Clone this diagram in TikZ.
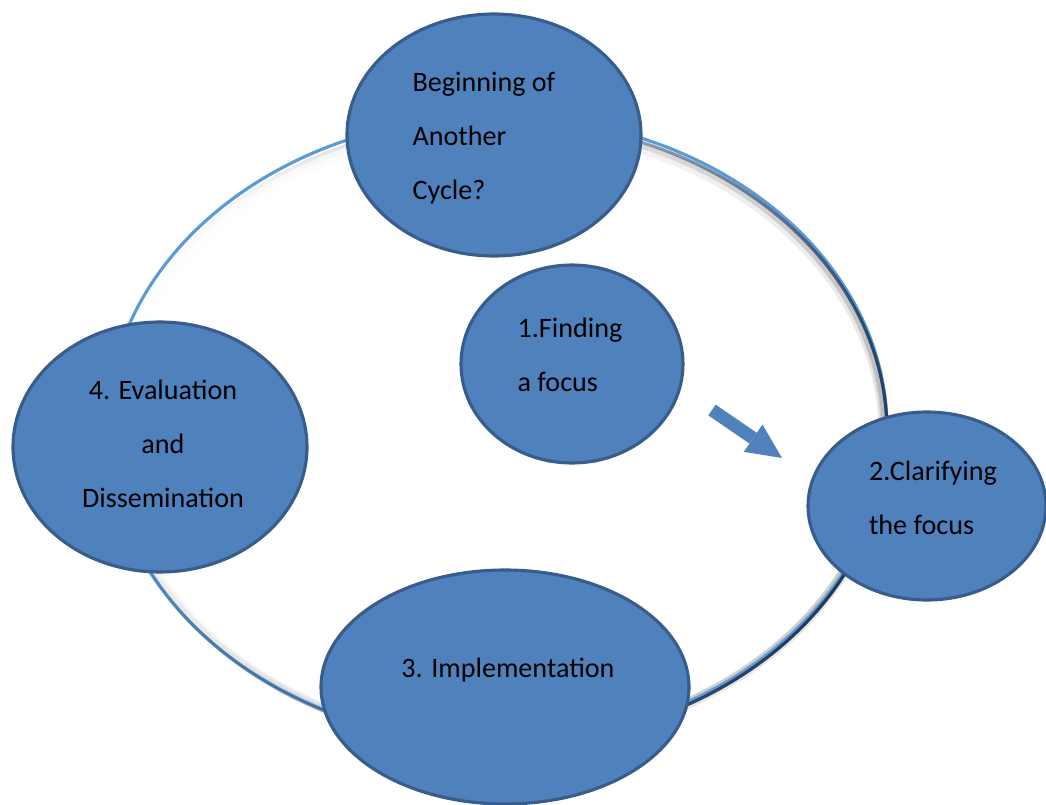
\documentclass[tikz,border=0pt]{standalone}
\usepackage{fontspec}
\setmainfont{Carlito}
\usetikzlibrary{shapes.geometric,arrows.meta,fadings}

\definecolor{stagefill}{HTML}{4F81BD}
\definecolor{stageline}{HTML}{385D8A}
\definecolor{ringlight}{HTML}{5B9BD5}
\definecolor{ringdark}{HTML}{1F3A60}

\tikzfading[name = ring-fade,
	top color = transparent!100,
	middle color = transparent!15,
	bottom color = transparent!0]

\tikzset{
	cyclepicture/.style = {
		x = 0.02cm,
		y = -0.02cm,
		font = \fontsize{16pt}{30.7pt}\selectfont
	},
	stage/.style = {
		ellipse,
		draw = stageline,
		fill = stagefill,
		line width = 1.8pt,
		inner sep = 0pt
	},
	stage-text/.style = {
		text = black,
		inner sep = 0pt,
		align = left
	},
	ring/.style = {
		draw = ringlight,
		line width = 1.8pt
	},
	ring-dark/.style = {
		draw = ringdark,
		line width = 1.8pt,
		path fading = ring-fade,
		fading angle = 65
	},
	ring-shadow/.style = {
		draw = black,
		draw opacity = 0.1,
		path fading = ring-fade,
		fading angle = 65
	},
	step-arrow/.style = {
		draw = stagefill,
		line width = 0.26cm,
		-{Triangle[width = 0.66cm, length = 0.7cm, line width = 0pt]}
	}
}

\begin{document}
\begin{tikzpicture}[cyclepicture]
	\useasboundingbox (0,0) rectangle (1046,805);

	% the ring behind the stages
	\coordinate (hub) at (497,429);
	\foreach \w in {6pt, 4pt, 2.5pt}
		\draw[ring-shadow, line width = \w] (hub) ellipse [x radius = 387, y radius = 310];
	\draw[ring] (hub) ellipse [x radius = 390, y radius = 313];
	\draw[ring-dark] (hub) ellipse [x radius = 390, y radius = 313];

	\node[stage, minimum width = 5.88cm, minimum height = 4.84cm] (another) at (494,135) {};
	\node[stage, minimum width = 4.44cm, minimum height = 3.96cm] (find) at (572,364) {};
	\node[stage, minimum width = 4.76cm, minimum height = 3.76cm] (clarify) at (927,506) {};
	\node[stage, minimum width = 7.36cm, minimum height = 4.68cm] (implement) at (505,687) {};
	\node[stage, minimum width = 5.88cm, minimum height = 5.00cm] (evaluate) at (160,447) {};

	\node[stage-text] (another-text) at (484,138) {Beginning of\\Another\\Cycle?};
	\node[stage-text] (find-text) at (570,355) {1.Finding\\a focus};
	\node[stage-text] (clarify-text) at (933,498) {2.Clarifying\\the focus};
	\node[stage-text] (implement-text) at (508,670) {3. Implementation};
	\node[stage-text, align = center] (evaluate-text) at (163,444) {4. Evaluation\\and\\Dissemination};

	\coordinate (arrow-tail) at (712,410);
	\coordinate (arrow-tip) at (782,458);
	\draw[step-arrow] (arrow-tail) -- (arrow-tip);
\end{tikzpicture}
\end{document}
